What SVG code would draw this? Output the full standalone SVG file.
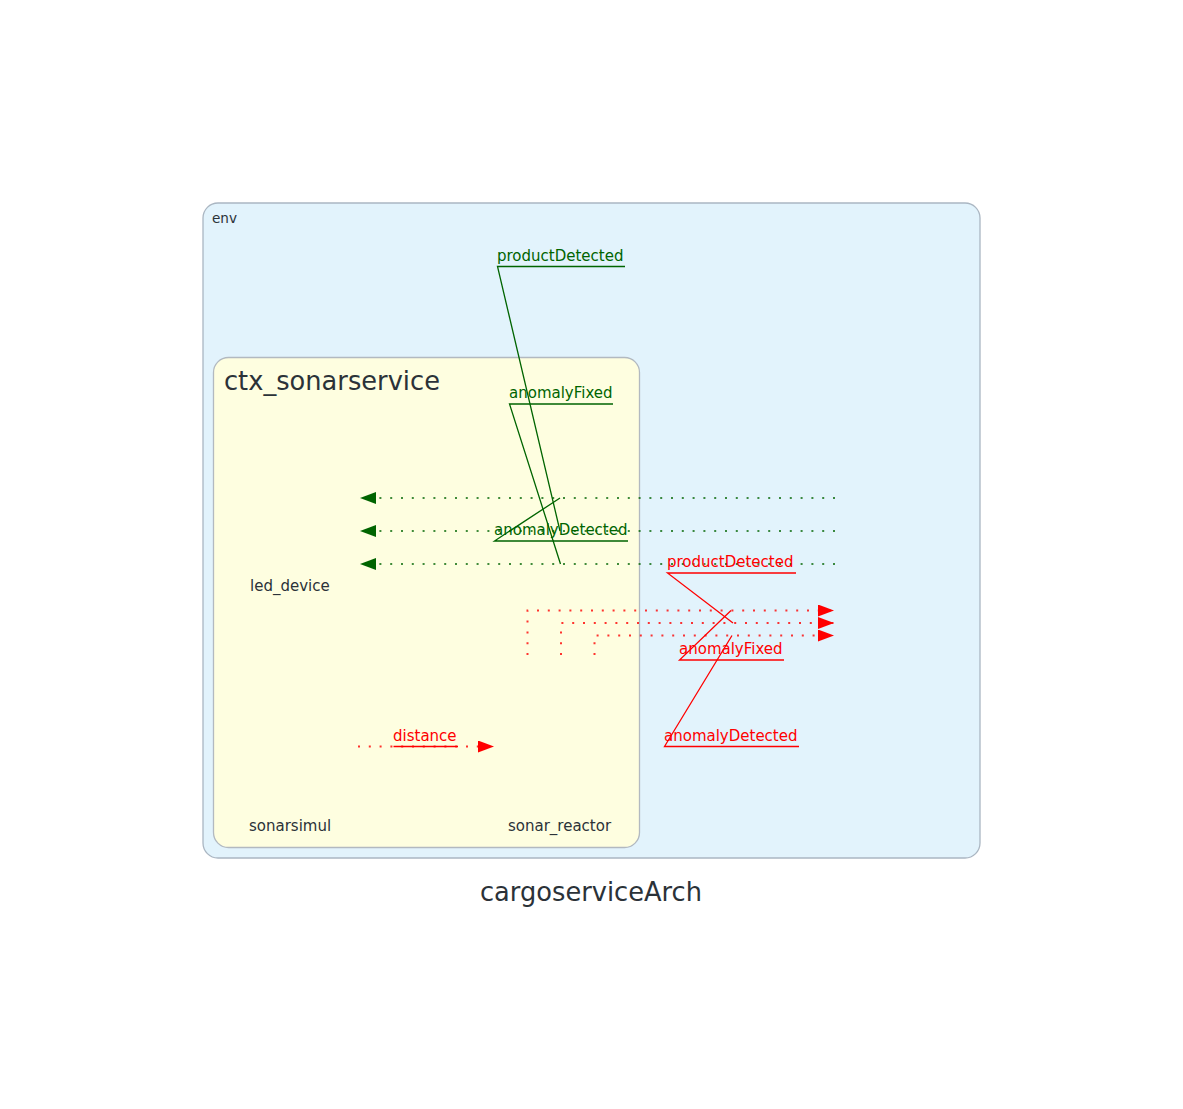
<svg xmlns="http://www.w3.org/2000/svg" width="1183" height="1109" viewBox="0 0 1183 1109">
<style>
.cl{font-family:"DejaVu Sans","Noto Sans",sans-serif;fill:#2b3238}
.node{font-family:"DejaVu Sans","Noto Sans",sans-serif;font-size:15px;fill:#2b3238}
.lbl{font-family:"DejaVu Sans","Noto Sans",sans-serif;font-size:15px}
.g{fill:#006400}
.r{fill:#ff0000}
.gl{stroke:#006400;stroke-width:1.3;fill:none}
.rl{stroke:#ff0000;stroke-width:1.3;fill:none}
.gd{stroke:#006400;stroke-opacity:0.75;stroke-width:2;stroke-dasharray:2 8.8;fill:none}
.rd{stroke:#ff0000;stroke-opacity:0.8;stroke-width:2;stroke-dasharray:2 8.8;fill:none}
</style>
<defs>
<marker id="ga" markerWidth="16" markerHeight="12" refX="16" refY="6" orient="auto" markerUnits="userSpaceOnUse"><path d="M0,0 L16,6 L0,12 z" fill="#006400"/></marker>
<marker id="ra" markerWidth="16" markerHeight="12" refX="16" refY="6" orient="auto" markerUnits="userSpaceOnUse"><path d="M0,0 L16,6 L0,12 z" fill="#ff0000"/></marker>
</defs>
<rect width="1183" height="1109" fill="#ffffff"/>
<g id="env">
<rect x="203" y="203" width="777" height="655" rx="15" fill="#e2f3fc" stroke="#aab6c2" stroke-width="1.3"/>
<text class="cl" x="212" y="222.5" font-size="13.6">env</text>
</g>
<g id="ctx_sonarservice">
<rect x="213.5" y="357.5" width="426" height="490" rx="15" fill="#fefee0" stroke="#b2b9c0" stroke-width="1.3"/>
<text class="cl" x="224" y="390" font-size="25.7">ctx_sonarservice</text>
</g>
<g id="led_device"><text class="node" x="250" y="591">led_device</text></g>
<g id="sonarsimul"><text class="node" x="249" y="831">sonarsimul</text></g>
<g id="sonar_reactor"><text class="node" x="508" y="831">sonar_reactor</text></g>
<g id="connectors">
<path class="gd" d="M835,498 H360" marker-end="url(#ga)"/>
<path class="gd" d="M835,531 H360" marker-end="url(#ga)"/>
<path class="gd" d="M835,564 H360" marker-end="url(#ga)"/>
<path class="rd" d="M527.5,655 V610.5 H834" marker-end="url(#ra)"/>
<path class="rd" d="M561,655 V623 H834" marker-end="url(#ra)"/>
<path class="rd" d="M594.5,655 V635.5 H834" marker-end="url(#ra)"/>
<path class="rd" d="M358,746.5 H494" marker-end="url(#ra)"/>
<text class="lbl g" x="497" y="261">productDetected</text>
<path class="gl" d="M625,266.5 H497.5 L560,531"/>
<text class="lbl g" x="509" y="398">anomalyFixed</text>
<path class="gl" d="M613,404 H509.5 L560.5,564"/>
<text class="lbl g" x="494" y="535">anomalyDetected</text>
<path class="gl" d="M628,541 H494.5 L560,498"/>
<text class="lbl r" x="667" y="567">productDetected</text>
<path class="rl" d="M796,573 H667.5 L733,623"/>
<text class="lbl r" x="679" y="654">anomalyFixed</text>
<path class="rl" d="M784,660 H679.5 L731,610.5"/>
<text class="lbl r" x="664" y="741">anomalyDetected</text>
<path class="rl" d="M799,746.5 H664.5 L732,635.5"/>
<text class="lbl r" x="393" y="741">distance</text>
<path class="rl" d="M393.5,746.5 H458"/>
</g>
<text class="cl" x="591" y="901" font-size="25.7" text-anchor="middle">cargoserviceArch</text>
</svg>
